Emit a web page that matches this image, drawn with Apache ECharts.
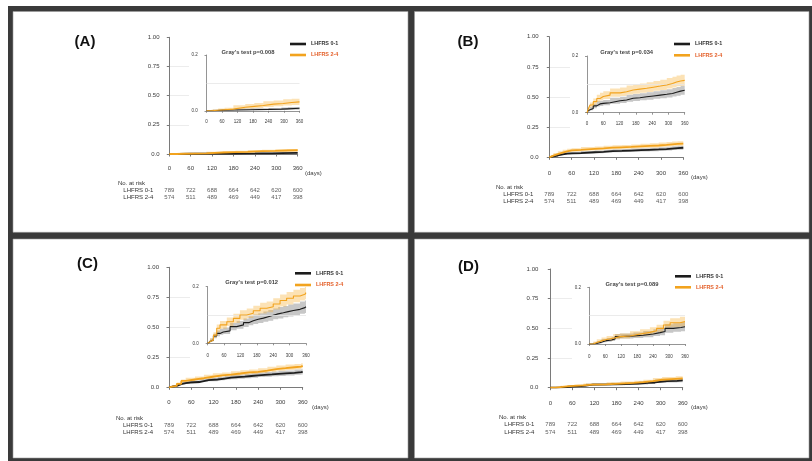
<!DOCTYPE html>
<html>
<head>
<meta charset="utf-8">
<script src="https://cdn.jsdelivr.net/npm/echarts@6/dist/echarts.min.js"></script>
<style>
  html, body { margin: 0; padding: 0; background: #fff; }
  #chart { width: 812px; height: 461px; }
</style>
</head>
<body>
<div id="chart"></div>
<script>
// ---- Numbers at risk (same cohort in every panel) ----
const riskDays = [0, 60, 120, 180, 240, 300, 360];
const riskLow = [789, 722, 688, 664, 642, 620, 600];   // LHFRS 0-1
const riskHigh = [574, 511, 489, 469, 449, 417, 398];  // LHFRS 2-4
const groupNames = ['LHFRS 0-1', 'LHFRS 2-4'];
const panelLabels = ['(A)', '(B)', '(C)', '(D)'];
const grayP = ['0.008', '0.034', '0.012', '0.089'];

// ---- Panel A: cumulative incidence with 95% CI ----
const aDaysLow = [0, 25, 60, 110, 170, 240, 290, 315, 360];
const aEstLow  = [0, 0.002, 0.003, 0.004, 0.005, 0.006, 0.007, 0.009, 0.010];
const aLoLow   = [0, 0, 0.001, 0.001, 0.002, 0.002, 0.003, 0.004, 0.005];
const aHiLow   = [0, 0.005, 0.006, 0.008, 0.009, 0.010, 0.012, 0.014, 0.016];
const aDaysHigh = [0, 20, 45, 70, 104, 150, 185, 220, 260, 297, 330, 360];
const aEstHigh  = [0, 0.002, 0.004, 0.006, 0.013, 0.016, 0.019, 0.024, 0.026, 0.030, 0.032, 0.033];
const aLoHigh   = [0, 0, 0.001, 0.002, 0.006, 0.008, 0.010, 0.014, 0.016, 0.019, 0.021, 0.022];
const aHiHigh   = [0, 0.005, 0.008, 0.011, 0.020, 0.024, 0.028, 0.034, 0.037, 0.041, 0.043, 0.045];

// ---- Panel B ----
const bDaysLow = [0, 5, 11, 23, 36, 48, 60, 85, 122, 146, 170, 195, 220, 245, 270, 294, 315, 330, 345, 360];
const bEstLow  = [0, 0.008, 0.015, 0.024, 0.031, 0.033, 0.035, 0.042, 0.045, 0.051, 0.053, 0.056, 0.059, 0.062, 0.065, 0.068, 0.072, 0.076, 0.079, 0.080];
const bLoLow   = [0, 0.004, 0.009, 0.016, 0.022, 0.024, 0.026, 0.032, 0.034, 0.039, 0.041, 0.044, 0.046, 0.049, 0.051, 0.054, 0.057, 0.060, 0.063, 0.064];
const bHiLow   = [0, 0.012, 0.021, 0.032, 0.040, 0.042, 0.045, 0.053, 0.056, 0.063, 0.066, 0.069, 0.072, 0.076, 0.079, 0.083, 0.087, 0.091, 0.095, 0.097];
const bDaysHigh = [0, 5, 11, 23, 36, 48, 60, 85, 122, 146, 170, 195, 220, 245, 270, 294, 315, 330, 345, 360];
const bEstHigh  = [0, 0.014, 0.027, 0.039, 0.050, 0.057, 0.062, 0.070, 0.074, 0.080, 0.083, 0.086, 0.090, 0.094, 0.098, 0.103, 0.108, 0.112, 0.114, 0.116];
const bLoHigh   = [0, 0.008, 0.018, 0.028, 0.038, 0.044, 0.048, 0.056, 0.059, 0.064, 0.067, 0.070, 0.073, 0.077, 0.080, 0.085, 0.089, 0.093, 0.095, 0.097];
const bHiHigh   = [0, 0.020, 0.036, 0.050, 0.063, 0.070, 0.076, 0.085, 0.089, 0.096, 0.099, 0.103, 0.107, 0.112, 0.116, 0.122, 0.127, 0.131, 0.134, 0.137];

// ---- Panel C ----
const cDaysLow = [0, 5, 9, 21, 33, 45, 57, 82, 106, 131, 150, 167, 185, 204, 222, 240, 258, 277, 295, 314, 338, 356, 360];
const cEstLow  = [0, 0.006, 0.012, 0.026, 0.035, 0.040, 0.044, 0.059, 0.065, 0.073, 0.080, 0.085, 0.089, 0.094, 0.099, 0.104, 0.108, 0.112, 0.116, 0.120, 0.126, 0.129, 0.129];
const cLoLow   = [0, 0.003, 0.007, 0.018, 0.025, 0.030, 0.033, 0.046, 0.051, 0.058, 0.064, 0.068, 0.072, 0.076, 0.080, 0.085, 0.088, 0.092, 0.095, 0.099, 0.104, 0.107, 0.107];
const cHiLow   = [0, 0.009, 0.017, 0.034, 0.045, 0.051, 0.056, 0.072, 0.079, 0.088, 0.096, 0.102, 0.106, 0.112, 0.118, 0.123, 0.128, 0.132, 0.137, 0.141, 0.148, 0.151, 0.151];
const cDaysHigh = [0, 5, 9, 21, 33, 45, 70, 94, 118, 143, 167, 192, 216, 240, 265, 289, 314, 338, 356, 360];
const cEstHigh  = [0, 0.006, 0.012, 0.029, 0.053, 0.065, 0.076, 0.088, 0.100, 0.106, 0.115, 0.124, 0.129, 0.139, 0.151, 0.159, 0.167, 0.173, 0.179, 0.179];
const cLoHigh   = [0, 0.003, 0.006, 0.019, 0.040, 0.051, 0.061, 0.072, 0.083, 0.089, 0.097, 0.105, 0.110, 0.119, 0.130, 0.137, 0.145, 0.151, 0.156, 0.156];
const cHiHigh   = [0, 0.010, 0.018, 0.039, 0.066, 0.079, 0.091, 0.104, 0.117, 0.123, 0.133, 0.143, 0.148, 0.159, 0.172, 0.181, 0.189, 0.195, 0.200, 0.200];

// ---- Panel D ----
const dDaysLow = [0, 15, 28, 46, 65, 84, 97, 115, 166, 203, 241, 266, 285, 316, 345, 360];
const dEstLow  = [0, 0.002, 0.006, 0.012, 0.014, 0.018, 0.026, 0.028, 0.031, 0.035, 0.040, 0.044, 0.055, 0.058, 0.061, 0.061];
const dLoLow   = [0, 0, 0.002, 0.006, 0.008, 0.011, 0.017, 0.019, 0.021, 0.024, 0.028, 0.031, 0.040, 0.043, 0.045, 0.045];
const dHiLow   = [0, 0.005, 0.010, 0.018, 0.021, 0.025, 0.035, 0.037, 0.041, 0.046, 0.052, 0.057, 0.070, 0.073, 0.077, 0.077];
const dDaysHigh = [0, 15, 28, 46, 65, 90, 115, 153, 191, 228, 253, 279, 304, 341, 360];
const dEstHigh  = [0, 0.005, 0.011, 0.016, 0.020, 0.026, 0.028, 0.035, 0.041, 0.047, 0.055, 0.067, 0.075, 0.079, 0.080];
const dLoHigh   = [0, 0.001, 0.005, 0.009, 0.012, 0.017, 0.019, 0.025, 0.030, 0.035, 0.042, 0.052, 0.059, 0.062, 0.063];
const dHiHigh   = [0, 0.009, 0.017, 0.023, 0.028, 0.035, 0.037, 0.045, 0.052, 0.059, 0.068, 0.082, 0.091, 0.096, 0.098];

const curves = [
  { low: [aDaysLow, aEstLow, aLoLow, aHiLow], high: [aDaysHigh, aEstHigh, aLoHigh, aHiHigh] },
  { low: [bDaysLow, bEstLow, bLoLow, bHiLow], high: [bDaysHigh, bEstHigh, bLoHigh, bHiHigh] },
  { low: [cDaysLow, cEstLow, cLoLow, cHiLow], high: [cDaysHigh, cEstHigh, cLoHigh, cHiHigh] },
  { low: [dDaysLow, dEstLow, dLoLow, dHiLow], high: [dDaysHigh, dEstHigh, dLoHigh, dHiHigh] }
];

// ---- Layout of the four panels ----
const layout = [
  { tag: [85, 41.5], main: [169.3, 37.3, 128.4, 116.7, 4.8, 3.3], inset: [206.5, 55, 93, 55.8, 4.2, 4.3],
    gray: [248, 52], legend: [290, 41, 5], days: [305, 173], noRisk: [118, 183], risk: [186.5, 14], cover: [189, 40, 116, 86] },
  { tag: [468, 42], main: [549.3, 36.7, 134, 120.6, 5.6, 4.7], inset: [587, 56, 97.7, 56.7, 4.3, 4],
    gray: [626.7, 52.7], legend: [674, 41, 5.3], days: [691, 177.3], noRisk: [496, 187.7], risk: [190.8, 14], cover: [570, 40, 120, 88] },
  { tag: [87.5, 263.5], main: [169, 267.3, 133.7, 120, 5, 4.4], inset: [207.7, 286.7, 98.3, 56.6, 4.4, 5],
    gray: [251.7, 282.3], legend: [295, 270.3, 5.7], days: [312, 407.3], noRisk: [116, 418], risk: [421.9, 13.4], cover: [190, 270, 122, 88] },
  { tag: [468.5, 266.5], main: [550.3, 269, 132.4, 118.7, 7, 5], inset: [589.3, 287.3, 95.7, 56.7, 3.8, 5.5],
    gray: [632, 284], legend: [675, 273.3, 5], days: [691, 407], noRisk: [499, 417.3], risk: [421, 14.6], cover: [572, 272, 118, 88] }
];

const FONT = '"Liberation Sans", Arial, sans-serif';
const BLACK = '#1c1c1c';
const ORANGE = '#f2a31e';
const ORANGE_TEXT = '#e4602a';
const BAND_BLACK = 'rgba(70,70,70,0.30)';
const BAND_ORANGE = 'rgba(246,178,60,0.38)';

const grids = [], xAxes = [], yAxes = [], series = [], legends = [], graphics = [];

// dark frame with four white panels
graphics.push({ type: 'rect', z: -5, shape: { x: 8, y: 6, width: 804, height: 455 }, style: { fill: '#3a3a3a' } });
[[13, 11.5, 395, 220.8], [414.5, 11.5, 394.5, 220.8], [13, 239, 395, 219], [414.5, 239, 394.5, 219]].forEach(r => {
  graphics.push({ type: 'rect', z: -4, shape: { x: r[0], y: r[1], width: r[2], height: r[3] }, style: { fill: '#ffffff', stroke: '#9a9a9a', lineWidth: 0.6 } });
});

function pairs(days, vals) { return days.map((d, i) => [d, vals[i]]); }

// Confidence band drawn as one step-shaped polygon through the axis scales
function addBand(axisIdx, days, lo, hi, color, z) {
  const rows = days.map((d, i) => [d, lo[i], hi[i]]);
  series.push({
    type: 'custom', xAxisIndex: axisIdx, yAxisIndex: axisIdx, data: rows, silent: true, z: z, animation: false,
    clip: true,
    encode: { x: 0, y: [1, 2] },
    renderItem: function (params, api) {
      if (params.dataIndex !== 0) return null;
      const upper = [], lower = [];
      for (let i = 0; i < rows.length; i++) {
        const next = i < rows.length - 1 ? rows[i + 1][0] : rows[i][0];
        upper.push(api.coord([rows[i][0], rows[i][2]]));
        upper.push(api.coord([next, rows[i][2]]));
        lower.push(api.coord([rows[i][0], rows[i][1]]));
        lower.push(api.coord([next, rows[i][1]]));
      }
      const pts = upper.concat(lower.reverse());
      return { type: 'polygon', shape: { points: pts }, style: { fill: color } };
    }
  });
}

function addCurve(axisIdx, name, days, est, color, width, z, extra) {
  series.push(Object.assign({
    type: 'line', name: name, xAxisIndex: axisIdx, yAxisIndex: axisIdx, data: pairs(days, est),
    step: 'end', symbol: 'none', color: color, lineStyle: { color: color, width: width },
    silent: true, z: z, animation: false
  }, extra || {}));
}

layout.forEach((L, p) => {
  const mainIdx = p * 3, insetIdx = p * 3 + 1, riskIdx = p * 3 + 2;
  const c = curves[p];

  // main plot
  grids.push({ left: L.main[0], top: L.main[1], width: L.main[2], height: L.main[3] });
  xAxes.push({
    type: 'value', gridIndex: mainIdx, min: 0, max: 360, interval: 60, offset: L.main[5],
    axisLine: { lineStyle: { color: '#7a7a7a', width: 1 } },
    axisTick: { length: 2.5, lineStyle: { color: '#7a7a7a' } },
    axisLabel: { fontSize: 6, color: '#3a3a3a', fontFamily: FONT, margin: 8 },
    splitLine: { show: false }
  });
  yAxes.push({
    type: 'value', gridIndex: mainIdx, min: 0, max: 1, interval: 0.25, offset: L.main[4],
    axisLine: { show: true, lineStyle: { color: '#7a7a7a', width: 1 } },
    axisTick: { show: true, length: 2.5, lineStyle: { color: '#7a7a7a' } },
    axisLabel: { fontSize: 6, color: '#3a3a3a', fontFamily: FONT, margin: 5,
      formatter: v => (v === 0 ? '0.0' : v.toFixed(2)) },
    splitLine: { show: true, showMinLine: false, showMaxLine: false, lineStyle: { color: '#ececec', width: 1 } }
  });

  // zoomed inset
  grids.push({ left: L.inset[0], top: L.inset[1], width: L.inset[2], height: L.inset[3] });
  xAxes.push({
    type: 'value', gridIndex: insetIdx, min: 0, max: 360, interval: 60, offset: L.inset[5], z: 2,
    axisLine: { lineStyle: { color: '#7a7a7a', width: 0.8 } },
    axisTick: { length: 2, lineStyle: { color: '#7a7a7a', width: 0.8 } },
    axisLabel: { fontSize: 4.5, color: '#3a3a3a', fontFamily: FONT, margin: 4.5 },
    splitLine: { show: false }
  });
  yAxes.push({
    type: 'value', gridIndex: insetIdx, min: 0, max: 0.2, interval: 0.2, offset: L.inset[4], z: 2,
    axisLine: { show: true, lineStyle: { color: '#7a7a7a', width: 0.8 } },
    axisTick: { show: true, length: 2, lineStyle: { color: '#7a7a7a', width: 0.8 } },
    axisLabel: { fontSize: 4.5, color: '#3a3a3a', fontFamily: FONT, margin: 4.5, formatter: v => v.toFixed(1) },
    splitLine: { show: false }
  });

  // number-at-risk table aligned with the main time axis
  grids.push({ left: L.main[0], top: L.risk[0], width: L.main[2], height: L.risk[1] });
  xAxes.push({ type: 'value', gridIndex: riskIdx, min: 0, max: 360, show: false });
  yAxes.push({
    type: 'category', gridIndex: riskIdx, data: groupNames, inverse: true,
    axisLine: { show: false }, axisTick: { show: false },
    axisLabel: { interval: 0, fontSize: 6, color: '#333', fontFamily: FONT, margin: 16 }
  });
  series.push({
    type: 'scatter', xAxisIndex: riskIdx, yAxisIndex: riskIdx, symbolSize: 0, silent: true, animation: false,
    data: riskDays.map((d, i) => [d, groupNames[0], riskLow[i]])
      .concat(riskDays.map((d, i) => [d, groupNames[1], riskHigh[i]])),
    label: { show: true, position: 'inside', formatter: q => String(q.value[2]),
      fontSize: 6, color: '#333', fontFamily: FONT }
  });

  // main curves with confidence bands
  addBand(mainIdx, c.low[0], c.low[2], c.low[3], BAND_BLACK, 2);
  addBand(mainIdx, c.high[0], c.high[2], c.high[3], BAND_ORANGE, 2);
  addCurve(mainIdx, groupNames[0], c.low[0], c.low[1], BLACK, 1.8, 3);
  addCurve(mainIdx, groupNames[1], c.high[0], c.high[1], ORANGE, 1.8, 4);

  // inset curves
  addBand(insetIdx, c.low[0], c.low[2], c.low[3], BAND_BLACK, 3);
  addBand(insetIdx, c.high[0], c.high[2], c.high[3], BAND_ORANGE, 3);
  addCurve(insetIdx, groupNames[0], c.low[0], c.low[1], BLACK, 1.1, 4, {
    markLine: { silent: true, symbol: 'none', label: { show: false }, animation: false,
      lineStyle: { color: '#e6e6e6', type: 'solid', width: 0.8 }, data: [{ yAxis: 0.1 }] }
  });
  addCurve(insetIdx, groupNames[1], c.high[0], c.high[1], ORANGE, 1.1, 5);

  // white card behind the inset
  graphics.push({ type: 'rect', z: 1, shape: { x: L.cover[0], y: L.cover[1], width: L.cover[2], height: L.cover[3] },
    style: { fill: '#ffffff' } });

  // panel tag, test result, axis unit, table heading
  graphics.push({ type: 'text', z: 6, x: L.tag[0], y: L.tag[1],
    style: { text: panelLabels[p], fontSize: 15, fontWeight: 'bold', fontFamily: FONT, fill: '#111',
      align: 'center', verticalAlign: 'middle' } });
  graphics.push({ type: 'text', z: 6, x: L.gray[0], y: L.gray[1],
    style: { text: "Gray's test p=" + grayP[p], fontSize: 5.8, fontWeight: 'bold', fontFamily: FONT, fill: '#444',
      align: 'center', verticalAlign: 'middle' } });
  graphics.push({ type: 'text', z: 6, x: L.days[0], y: L.days[1],
    style: { text: '(days)', fontSize: 6, fontFamily: FONT, fill: '#3a3a3a', align: 'left', verticalAlign: 'middle' } });
  graphics.push({ type: 'text', z: 6, x: L.noRisk[0], y: L.noRisk[1],
    style: { text: 'No. at risk', fontSize: 6, fontFamily: FONT, fill: '#333', align: 'left', verticalAlign: 'middle' } });

  legends.push({
    orient: 'vertical', left: L.legend[0], top: L.legend[1], padding: 0, itemGap: L.legend[2],
    itemWidth: 16, itemHeight: 2.6, icon: 'rect', selectedMode: false,
    textStyle: { fontSize: 5.4, fontWeight: 'bold', fontFamily: FONT, lineHeight: 6 },
    data: [
      { name: groupNames[0], textStyle: { color: '#333' } },
      { name: groupNames[1], textStyle: { color: ORANGE_TEXT } }
    ]
  });
});

const chart = echarts.init(document.getElementById('chart'), null, { renderer: 'canvas' });
chart.setOption({
  animation: false,
  backgroundColor: '#ffffff',
  grid: grids,
  xAxis: xAxes,
  yAxis: yAxes,
  legend: legends,
  series: series,
  graphic: graphics
});
</script>
</body>
</html>
